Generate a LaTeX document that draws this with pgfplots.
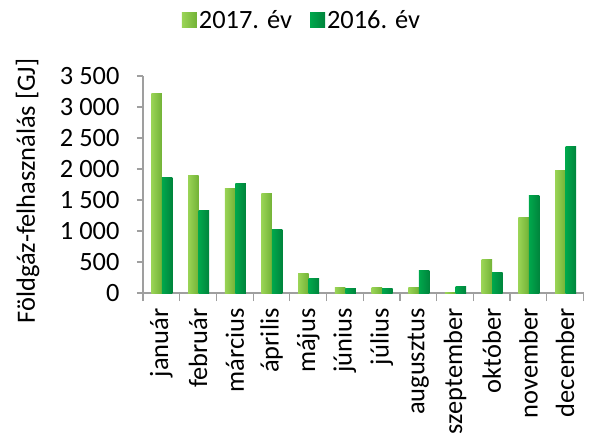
\documentclass[border=0pt]{standalone}
\usepackage{pgfplots}
\pgfplotsset{compat=1.18}
\usepackage{fontspec}
\setmainfont{Carlito}
\definecolor{aL}{HTML}{9AD456}
\definecolor{aM}{HTML}{CDF28E}
\definecolor{aR}{HTML}{72B236}
\definecolor{bL}{HTML}{00A84C}
\definecolor{bM}{HTML}{3DD47C}
\definecolor{bR}{HTML}{00843C}
\pgfplotsset{
  b17/.style={ybar, draw=none, left color=aL, middle color=aM, right color=aR, bar shift=-4.75bp},
  b16/.style={ybar, draw=none, left color=bL, middle color=bM, right color=bR, bar shift=5.75bp},
}
\begin{document}
\begin{tikzpicture}[font=\fontsize{26.5}{31}\selectfont]
\useasboundingbox (-143bp,-146bp) rectangle (446bp,293bp);
\begin{axis}[
  at={(0,0)}, anchor=south west,
  scale only axis, width=440.5bp, height=217bp,
  xmin=-0.5, xmax=11.5, ymin=0, ymax=3500,
  axis x line*=bottom, axis y line*=left,
  axis line style={draw=gray!75, line width=1.5bp},
  ybar=0pt, bar width=10.5bp,
  ytick={0,500,...,3500},
  /pgf/number format/1000 sep={\ },
  /pgf/number format/assume math mode=true,
  tick align=outside,
  major tick length=6bp, minor tick length=8bp,
  ytick style={draw=gray!75, line width=1.2bp},
  xtick={0,...,11},
  minor xtick={-0.5,0.5,...,11.5},
  major x tick style={draw=none},
  minor x tick style={draw=gray!75, line width=1.2bp},
  xticklabels={január,február,március,április,május,június,július,augusztus,szeptember,október,november,december},
  x tick label style={rotate=90, anchor=east},
  xticklabel shift=6bp,
  y tick label style={xshift=-14bp},
  ylabel={Földgáz-felhasználás [GJ]},
  ylabel style={at={(axis description cs:-0.262,0.47)}, anchor=center},
  legend columns=2,
  legend style={at={(0.361,1.258)}, anchor=center, draw=none, fill=none,
    /tikz/every even column/.append style={column sep=16bp}},
  legend image code/.code={\path[#1, draw=none] (0bp,-7bp) rectangle (15bp,8bp);},
]
\addlegendimage{b17}
\addlegendentry{2017. év}
\addlegendimage{b16}
\addlegendentry{2016. év}
% 2017
\addplot[b17, forget plot] coordinates {(0,3210)};
\addplot[b17, forget plot] coordinates {(1,1900)};
\addplot[b17, forget plot] coordinates {(2,1680)};
\addplot[b17, forget plot] coordinates {(3,1600)};
\addplot[b17, forget plot] coordinates {(4,310)};
\addplot[b17, forget plot] coordinates {(5,95)};
\addplot[b17, forget plot] coordinates {(6,90)};
\addplot[b17, forget plot] coordinates {(7,90)};
\addplot[b17, forget plot] coordinates {(8,10)};
\addplot[b17, forget plot] coordinates {(9,545)};
\addplot[b17, forget plot] coordinates {(10,1210)};
\addplot[b17, forget plot] coordinates {(11,1980)};
% 2016
\addplot[b16, forget plot] coordinates {(0,1860)};
\addplot[b16, forget plot] coordinates {(1,1330)};
\addplot[b16, forget plot] coordinates {(2,1760)};
\addplot[b16, forget plot] coordinates {(3,1020)};
\addplot[b16, forget plot] coordinates {(4,235)};
\addplot[b16, forget plot] coordinates {(5,75)};
\addplot[b16, forget plot] coordinates {(6,80)};
\addplot[b16, forget plot] coordinates {(7,360)};
\addplot[b16, forget plot] coordinates {(8,110)};
\addplot[b16, forget plot] coordinates {(9,325)};
\addplot[b16, forget plot] coordinates {(10,1565)};
\addplot[b16, forget plot] coordinates {(11,2360)};
\end{axis}
\end{tikzpicture}
\end{document}
